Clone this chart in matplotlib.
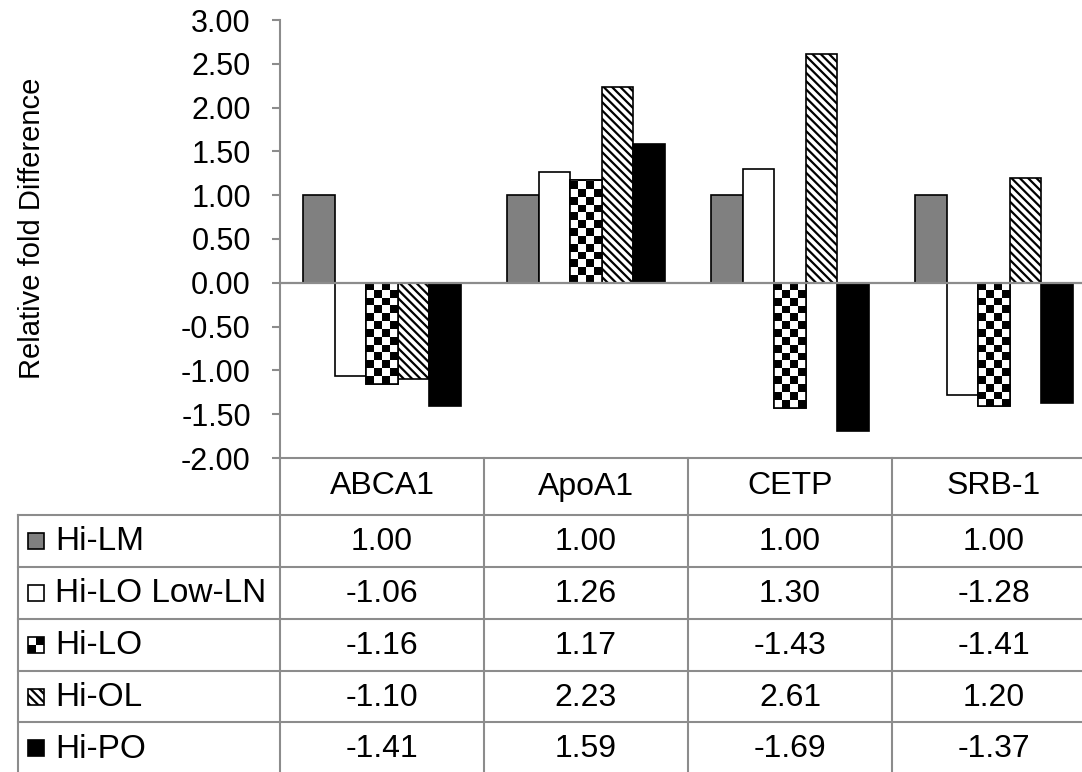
import numpy as np
import matplotlib
matplotlib.use("Agg")
import matplotlib.pyplot as plt
from matplotlib.patches import Rectangle

plt.rcParams['font.family'] = ['Liberation Sans', 'DejaVu Sans']
plt.rcParams['axes.unicode_minus'] = False
plt.rcParams['hatch.linewidth'] = 1.6

# ---------------- data ----------------
categories = ["ABCA1", "ApoA1", "CETP", "SRB-1"]
series_names = ["Hi-LM", "Hi-LO Low-LN", "Hi-LO", "Hi-OL", "Hi-PO"]
hi_lm = [1.00, 1.00, 1.00, 1.00]
hi_lo_low_ln = [-1.06, 1.26, 1.30, -1.28]
hi_lo = [-1.16, 1.17, -1.43, -1.41]
hi_ol = [-1.10, 2.23, 2.61, 1.20]
hi_po = [-1.41, 1.59, -1.69, -1.37]
series_values = [hi_lm, hi_lo_low_ln, hi_lo, hi_ol, hi_po]
y_ticks = [-2.0, -1.5, -1.0, -0.5, 0.0, 0.5, 1.0, 1.5, 2.0, 2.5, 3.0]

# ---------------- styles ----------------
styles = [
    dict(facecolor="#808080", hatch=None, checker=False),
    dict(facecolor="white", hatch=None, checker=False),
    dict(facecolor="white", hatch=None, checker=True),
    dict(facecolor="white", hatch="\\\\\\\\", checker=False),
    dict(facecolor="black", hatch=None, checker=False),
]
GRID = "#8c8c8c"

W, H, DPI = 1082, 772, 100
fig = plt.figure(figsize=(W / DPI, H / DPI), dpi=DPI)

# main axes (pixel layout)
ax_l, ax_r, ax_t, ax_b = 280, 1096, 20, 458
ax = fig.add_axes([ax_l / W, (H - ax_b) / H, (ax_r - ax_l) / W, (ax_b - ax_t) / H])
ax.set_xlim(-0.5, len(categories) - 0.5)
ax.set_ylim(-2.0, 3.0)
for s in ["top", "right", "bottom"]:
    ax.spines[s].set_visible(False)
ax.spines["left"].set_color(GRID)
ax.spines["left"].set_linewidth(1.5)
ax.set_xticks([])
ax.set_yticks(y_ticks)
ax.set_yticklabels([f"{t:.2f}" for t in y_ticks])
ax.tick_params(axis="y", direction="out", length=6, width=1.5, color=GRID,
               labelsize=22, pad=15)
ax.set_facecolor("none")

bw = 31.6 / 204.0
cell_px = 7.8
px_per_x = (ax_r - ax_l) / len(categories)
px_per_y = (ax_b - ax_t) / 5.0

x = np.arange(len(categories))
for j, (vals, st) in enumerate(zip(series_values, styles)):
    xs = x + (j - 2) * bw
    bars = ax.bar(xs, vals, width=bw, facecolor=st["facecolor"], edgecolor="black",
                  linewidth=1.2, hatch=st["hatch"], zorder=2)
    if st["checker"]:
        for b, v in zip(bars, vals):
            x0 = b.get_x()
            ncol = 4
            nrow = int(np.ceil(abs(v) * px_per_y / cell_px))
            img = (np.add.outer(np.arange(nrow), np.arange(ncol)) % 2).astype(float)
            cw = bw / ncol
            ch = cell_px / px_per_y
            if v >= 0:
                ext = [x0, x0 + ncol * cw, 0, nrow * ch]
                origin = "lower"
            else:
                ext = [x0, x0 + ncol * cw, -nrow * ch, 0]
                origin = "upper"
            im = ax.imshow(img, extent=ext, cmap="gray", vmin=0, vmax=1,
                           interpolation="nearest", aspect="auto", origin=origin,
                           zorder=2.5)
            im.set_clip_path(b)
            ax.add_patch(Rectangle((x0, 0), bw, v, facecolor="none", edgecolor="black",
                                   linewidth=1.2, zorder=2.6))
ax.axhline(0, color=GRID, linewidth=1.6, zorder=3)

fig.text(32 / W, 1 - 228 / H, "Relative fold Difference", rotation=90,
         ha="center", va="center", fontsize=21)

# ---------------- table ----------------
tax = fig.add_axes([0, 0, 1, 1])
tax.set_xlim(0, W)
tax.set_ylim(H, 0)
tax.axis("off")
tax.set_zorder(-1)

col_edges = [18, 280, 484, 688, 892, 1096]
row_edges = [458, 515, 567, 619, 671, 722, 774]
lk = dict(color=GRID, linewidth=1.5)
tax.plot([col_edges[1], col_edges[-1]], [row_edges[0]] * 2, **lk)
for r in row_edges[1:]:
    tax.plot([col_edges[0], col_edges[-1]], [r, r], **lk)
tax.plot([col_edges[0]] * 2, [row_edges[1], row_edges[-1]], **lk)
for c in col_edges[1:]:
    tax.plot([c, c], [row_edges[0], row_edges[-1]], **lk)

for i, cat in enumerate(categories):
    cx = (col_edges[i + 1] + col_edges[i + 2]) / 2
    cy = (row_edges[0] + row_edges[1]) / 2
    tax.text(cx, cy, cat, ha="center", va="center", fontsize=23)

for j, (name, vals, st) in enumerate(zip(series_names, series_values, styles)):
    cy = (row_edges[j + 1] + row_edges[j + 2]) / 2
    sx, ss = 28, 16
    if st["checker"]:
        tax.add_patch(Rectangle((sx, cy - ss / 2), ss, ss, facecolor="white",
                                edgecolor="none"))
        tax.add_patch(Rectangle((sx + ss / 2, cy - ss / 2), ss / 2, ss / 2,
                                facecolor="black", edgecolor="none"))
        tax.add_patch(Rectangle((sx, cy), ss / 2, ss / 2,
                                facecolor="black", edgecolor="none"))
        tax.add_patch(Rectangle((sx, cy - ss / 2), ss, ss, facecolor="none",
                                edgecolor="black", linewidth=1.2))
    else:
        tax.add_patch(Rectangle((sx, cy - ss / 2), ss, ss, facecolor=st["facecolor"],
                                edgecolor="black", linewidth=1.2, hatch=st["hatch"]))
    tax.text(55, cy + 1, name, ha="left", va="center", fontsize=24)
    for i, v in enumerate(vals):
        cx = (col_edges[i + 1] + col_edges[i + 2]) / 2
        tax.text(cx, cy + 1, f"{v:.2f}", ha="center", va="center", fontsize=23)

fig.savefig("out.png", dpi=DPI)
